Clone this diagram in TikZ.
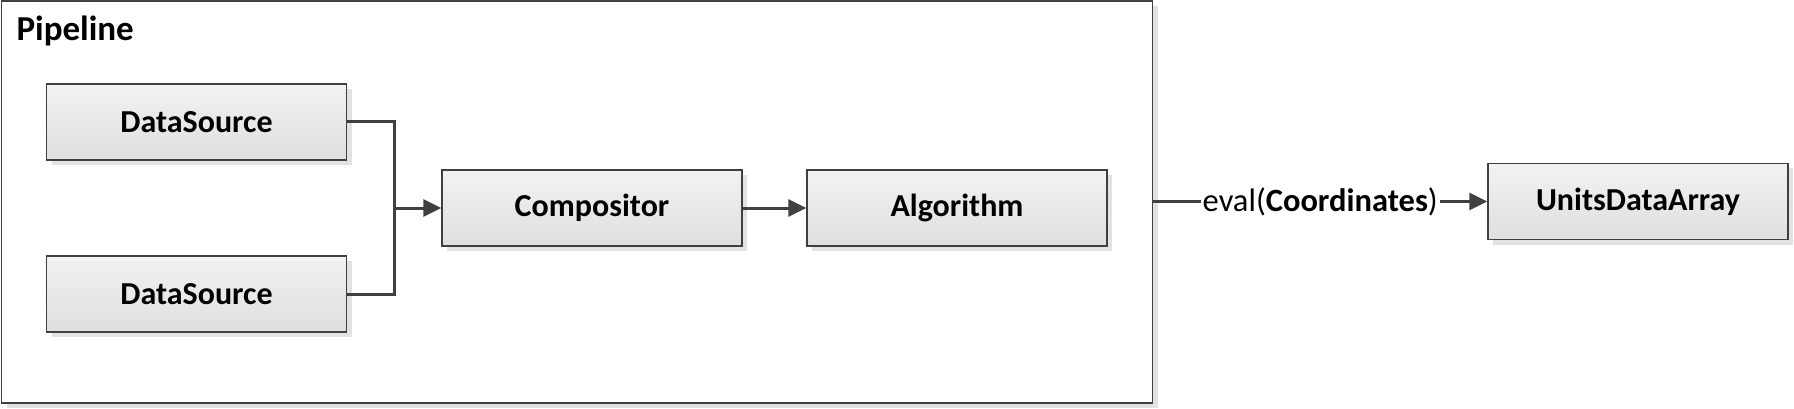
\documentclass[tikz,border=0pt]{standalone}
\usepackage{fontspec}
\setmainfont{Carlito}
\usetikzlibrary{arrows.meta,shadows}
\definecolor{linecol}{HTML}{404040}
\definecolor{topcol}{HTML}{F2F2F2}
\definecolor{botcol}{HTML}{DFDFDF}
\definecolor{shadowcol}{HTML}{E2E2E2}
\tikzset{
  boxnode/.style={draw=linecol, line width=1.5pt, top color=topcol, bottom color=botcol,
    minimum width=300pt, minimum height=76pt, inner sep=0pt,
    font=\fontsize{32}{38}\selectfont\bfseries,
    drop shadow={shadow xshift=5pt, shadow yshift=-5pt, fill=shadowcol, opacity=1}},
  conn/.style={draw=linecol, line width=3pt},
  arr/.style={conn, -{Triangle[length=18pt,width=17pt]}},
}
\begin{document}
\begin{tikzpicture}[x=1pt,y=-1pt]
\useasboundingbox (0,0) rectangle (1794,409);
\node[draw=linecol, line width=1.5pt, fill=white, minimum width=1151pt, minimum height=402pt, inner sep=0pt,
  drop shadow={shadow xshift=5pt, shadow yshift=-5pt, fill=shadowcol, opacity=1}] (frame) at (577,202) {};
\node[anchor=west, font=\fontsize{35}{40}\selectfont\bfseries] (title) at (13,31) {Pipeline};
\node[boxnode] (ds1) at (196.5,122) {DataSource};
\node[boxnode] (ds2) at (196.5,294) {DataSource};
\node[boxnode] (comp) at (592,208) {Compositor};
\node[boxnode] (alg) at (957,208) {Algorithm};
\node[boxnode] (uda) at (1638,201.5) {UnitsDataArray};
\coordinate (j) at (394,208);
\draw[conn] (ds1.east) -| (j);
\draw[conn] (ds2.east) -| (j);
\draw[arr] (j) -- (comp.west);
\draw[arr] (comp.east) -- (alg.west);
\draw[arr] (frame.east |- uda.west) -- node[fill=white, inner sep=2pt, font=\fontsize{32.5}{38}\selectfont] (lbl) {eval(\textbf{Coordinates})} (uda.west);
\end{tikzpicture}
\end{document}
